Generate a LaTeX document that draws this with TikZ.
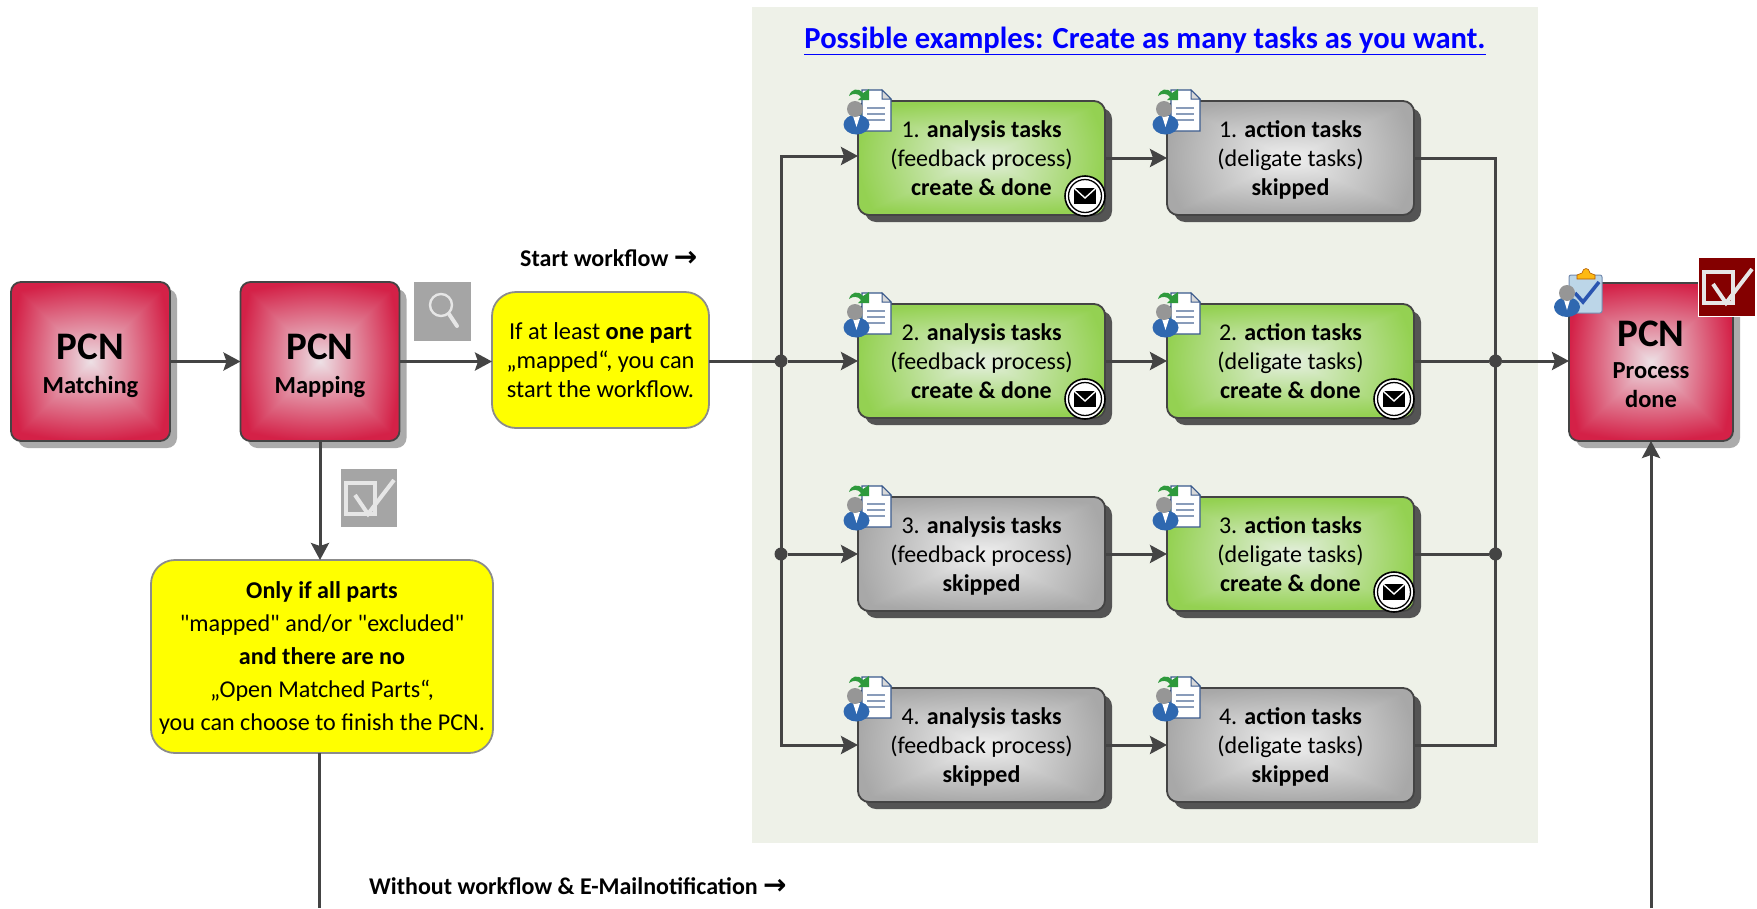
\documentclass[tikz,border=0pt]{standalone}
\usepackage{fontspec}
\setmainfont{Carlito}
\newfontfamily\plainq{Carlito}
\newfontfamily\arrowfont{DejaVu Sans}
\usetikzlibrary{arrows.meta,shadows,calc}
\newcommand\boxshade[7]{\pgfdeclarefunctionalshading{#1}{\pgfpoint{-50bp}{-50bp}}{\pgfpoint{50bp}{50bp}}{}{
 2 copy dup mul exch dup mul add sqrt 3 1 roll abs exch abs 2 copy lt {exch} if pop
 0.7 mul exch 0.3 mul add 25 div dup 1 gt {pop 1} if
 dup dup #7 mul #6 add 3 1 roll #5 mul #4 add 3 1 roll #3 mul #2 add 3 1 roll}}
\boxshade{redshade}{0.93}{-0.10}{0.88}{-0.75}{0.90}{-0.62}
\boxshade{greenshade}{0.90}{-0.32}{0.94}{-0.12}{0.88}{-0.56}
\boxshade{greyshade}{0.94}{-0.28}{0.94}{-0.28}{0.94}{-0.28}
\definecolor{linegrey}{HTML}{444444}
\definecolor{panelbg}{HTML}{EEF1E8}
\definecolor{yellowbg}{HTML}{FFFF00}
\definecolor{iconbg}{HTML}{A5A5A5}
\definecolor{iconfg}{HTML}{E6E6E6}
\definecolor{darkred}{HTML}{840000}
\definecolor{docblue}{HTML}{3A5A8C}
\definecolor{bodyblue}{HTML}{2F68B0}
\definecolor{headgrey}{HTML}{969696}
\definecolor{arrowgreen}{HTML}{2E9A3C}
\definecolor{clipblue}{HTML}{BCD6E8}
\definecolor{clipcheck}{HTML}{2A55B0}
\definecolor{clipgold}{HTML}{FDB913}
\tikzset{
 x=1pt,y=-1pt,
 boxbase/.style={draw=linegrey,line width=1.8pt,inner sep=0pt,outer sep=0pt,align=center,text=black},
 pcnbox/.style={boxbase,shade,shading=redshade,rounded corners=10pt,minimum width=159pt,minimum height=159pt,
   font=\fontsize{24.5}{34}\selectfont\bfseries,
   drop shadow={shadow xshift=7pt,shadow yshift=-7pt,fill=black!33,opacity=1}},
 taskbox/.style={boxbase,shade,rounded corners=11pt,minimum width=247pt,minimum height=114pt,
   font=\fontsize{24}{29}\selectfont,
   drop shadow={shadow xshift=7pt,shadow yshift=-7pt,fill=black!67,opacity=1}},
 gtask/.style={taskbox,shading=greenshade},
 ytask/.style={taskbox,shading=greyshade},
 notebox/.style={draw=black!45,line width=1.8pt,fill=yellowbg,rounded corners=24pt,inner sep=0pt,outer sep=0pt,align=center},
 link/.style={draw=linegrey,line width=3pt},
 flow/.style={link,-{Stealth[length=17pt,width=18pt,inset=3pt]}},
 junction/.style={circle,fill=linegrey,minimum size=13pt,inner sep=0pt,outer sep=0pt},
 caption/.style={font=\fontsize{24}{28}\selectfont\bfseries,inner sep=0pt},
 pics/taskicon/.style={code={
   \path[fill=white,draw=docblue,line width=1.2pt] (4,-11) -- (24,-11) -- (33,-2) -- (33,30) -- (4,30) -- cycle;
   \path[fill=black!15,draw=docblue,line width=1pt] (24,-11) -- (24,-2) -- (33,-2) -- cycle;
   \foreach \q in {7,13,19}{\draw[docblue!60,line width=1.6pt] (9,\q) -- (27,\q);}
   \fill[arrowgreen] (-9,-5) .. controls (-7,-12) and (0,-14) .. (5,-8) -- (11,-12) -- (11,-1) -- (0,-1) -- (3,-4) .. controls (0,-8) and (-5,-8) .. (-9,-5) -- cycle;
   \fill[bodyblue] (-1.5,23.5) ellipse [x radius=13,y radius=10];
   \fill[white] (-5,15) -- (2,15) -- (-1.5,26) -- cycle;
   \fill[headgrey] (-3,8) circle [radius=8];
 }},
 pics/doneicon/.style={code={
   \path[fill=clipblue,draw=docblue!70,line width=1pt,rounded corners=2pt] (0,0) rectangle (33,38);
   \path[fill=clipgold,draw=orange!70!black,line width=.6pt] (8,4) -- (8,0) -- (13,-2) .. controls (14,-8) and (20,-8) .. (21,-2) -- (26,0) -- (26,4) -- cycle;
   \draw[clipcheck,line width=3.6pt] (6,18) -- (14,27) -- (30,7);
   \fill[bodyblue] (-2,32) ellipse [x radius=13,y radius=10];
   \fill[white] (-5,25) -- (1,25) -- (-2,35) -- cycle;
   \fill[headgrey] (-2,18) circle [radius=8];
 }},
 pics/mailbadge/.style={code={
   \path[fill=white,draw=black,line width=1.6pt] (0,0) circle [radius=20];
   \draw[black,line width=1.3pt] (0,0) circle [radius=16.5];
   \fill[black] (-11,-8) rectangle (11,8);
   \draw[white,line width=1.4pt] (-11,-8) -- (0,2) -- (11,-8);
 }},
 pics/checkicon/.style 2 args={code={
   \path[fill=#1,draw=white,line width=1pt] (0,0) rectangle (57,59);
   \draw[#2,line width=4pt] (6,15) rectangle (35,46);
   \draw[#2,line width=4pt] (15,27) -- (28,46) -- (54,12);
 }},
 pics/searchicon/.style={code={
   \fill[iconbg] (0,0) rectangle (57,59);
   \draw[iconfg,line width=2.4pt] (27,23) circle [radius=11];
   \draw[iconfg,line width=4pt,line cap=round] (35,32) -- (43,44);
 }}
}
\newcommand\bigpcn[1]{\rule{0pt}{#1}{\fontsize{39}{35}\selectfont PCN}}
\newcommand\tasktop{\rule{0pt}{25.3pt}}
\newcommand\bigarrow{{\arrowfont\bfseries\fontsize{28}{28}\selectfont →}}
\begin{document}
\begin{tikzpicture}
\useasboundingbox (0,0) rectangle (1757,908);
\fill[white] (0,0) rectangle (1757,908);
\fill[panelbg] (752,7) rectangle (1538,843);
\node[font=\fontsize{30.6}{32}\selectfont\bfseries,text=blue,inner sep=0pt] (title) at (1145,41) {\underline{Possible examples: Create as many tasks as you want.}};

% PCN boxes
\node[pcnbox] (match) at (90.5,361.5) {\bigpcn{35pt}\\Matching};
\node[pcnbox] (map) at (320,361.5) {\bigpcn{35pt}\\Mapping};
\node[pcnbox,minimum width=164pt,minimum height=158pt,font=\fontsize{24.5}{29}\selectfont\bfseries] (done) at (1651,362) {\bigpcn{31pt}\\[3pt]Process\\done};

% notes
\node[notebox,minimum width=217pt,minimum height=136pt,font=\fontsize{24.4}{29}\selectfont] (note1) at (600.5,360) {\rule{0pt}{26.3pt}If at least \textbf{one part}\\„mapped“, you can\\start the workflow.\strut};
\node[notebox,minimum width=342pt,minimum height=193pt,font=\fontsize{24.1}{33}\selectfont] (note2) at (322,656.5) {\rule{0pt}{26pt}\textbf{Only if all parts}\\{\plainq "mapped" and/or "excluded"}\\\textbf{and there are no}\\„Open Matched Parts“,\\you can choose to finish the PCN.\strut};

% tasks
\node[gtask] (a1) at (981.5,158) {\tasktop 1. \textbf{analysis tasks}\\(feedback process)\\\textbf{create \& done}\strut};
\node[ytask] (b1) at (1290.5,158) {\tasktop 1. \textbf{action tasks}\\(deligate tasks)\\\textbf{skipped}\strut};
\node[gtask] (a2) at (981.5,361) {\tasktop 2. \textbf{analysis tasks}\\(feedback process)\\\textbf{create \& done}\strut};
\node[gtask] (b2) at (1290.5,361) {\tasktop 2. \textbf{action tasks}\\(deligate tasks)\\\textbf{create \& done}\strut};
\node[ytask] (a3) at (981.5,554) {\tasktop 3. \textbf{analysis tasks}\\(feedback process)\\\textbf{skipped}\strut};
\node[gtask] (b3) at (1290.5,554) {\tasktop 3. \textbf{action tasks}\\(deligate tasks)\\\textbf{create \& done}\strut};
\node[ytask] (a4) at (981.5,745) {\tasktop 4. \textbf{analysis tasks}\\(feedback process)\\\textbf{skipped}\strut};
\node[ytask] (b4) at (1290.5,745) {\tasktop 4. \textbf{action tasks}\\(deligate tasks)\\\textbf{skipped}\strut};

% captions
\node[caption,anchor=west] (cap1) at (520,258) {Start workflow \bigarrow};
\node[caption,anchor=west] (cap2) at (369,886) {Without workflow \& E-Mailnotification \bigarrow};

% junctions and free ends
\node[junction] (jl2) at (781,361) {};
\node[junction] (jl3) at (781,554) {};
\node[junction] (jr2) at (1495.5,361) {};
\node[junction] (jr3) at (1495.5,554) {};
\coordinate (tl1) at (781,156);
\coordinate (tl4) at (781,745);
\coordinate (tr1) at (1495.5,158);
\coordinate (tr4) at (1495.5,745);
\coordinate (edgeA) at (319,908);
\coordinate (edgeB) at (done.south |- 0,908);

% connectors
\draw[flow] (match.east) -- (map.west);
\draw[flow] (map.east) -- (note1.west |- map.east);
\draw[flow] (map.south) -- (map.south |- note2.north);
\draw[link] (edgeA |- note2.south) -- (edgeA);
\draw[flow] (edgeB) -- (done.south);
\draw[link] (note1.east |- jl2) -- (jl2);
\draw[link,line cap=rect] (tl1) -- (tl4);
\draw[flow] (jl2) -- (a2.west);
\draw[flow] (jl3) -- (a3.west);
\draw[flow] (tl1) -- (a1.west |- tl1);
\draw[flow] (tl4) -- (a4.west);
\draw[flow] (a1.east) -- (b1.west);
\draw[flow] (a2.east) -- (b2.west);
\draw[flow] (a3.east) -- (b3.west);
\draw[flow] (a4.east) -- (b4.west);
\draw[link,line join=miter] (b1.east) -- (tr1) -- (tr4) -- (b4.east);
\draw[link] (b2.east) -- (jr2);
\draw[link] (b3.east) -- (jr3);
\draw[flow] (jr2) -- (done.west |- jr2);

% icons
\foreach \n in {a1,b1,a2,b2,a3,b3,a4,b4}{\pic at (\n.north west) {taskicon};}
\foreach \n in {a1,a2,b2,b3}{\pic at ($(\n.south east)+(-20,-19)$) {mailbadge};}
\pic at (414,282) {searchicon};
\pic at (340,468) {checkicon={iconbg}{iconfg}};
\pic at (1698,257) {checkicon={darkred}{iconfg}};
\pic at (1569,275) {doneicon};
\end{tikzpicture}
\end{document}
